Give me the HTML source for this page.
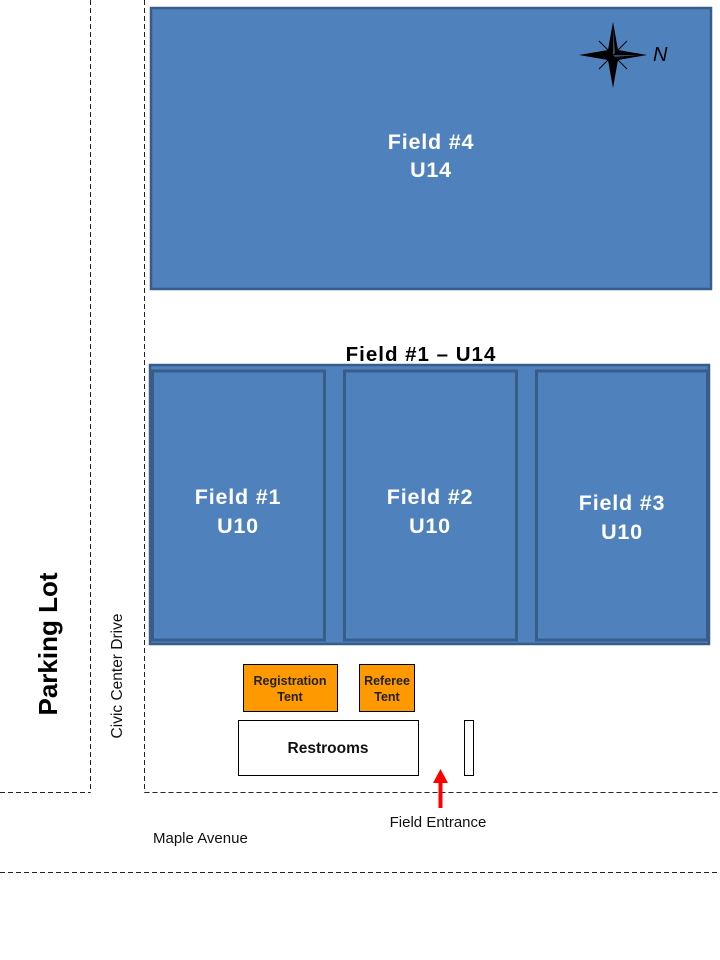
<!DOCTYPE html>
<html>
<head>
<meta charset="utf-8">
<style>
  html,body{margin:0;padding:0;background:#fff;}
  svg{display:block;}
  text{font-family:"Liberation Sans",Arial,sans-serif;}
</style>
</head>
<body>
<svg width="720" height="960" viewBox="0 0 720 960" xmlns="http://www.w3.org/2000/svg">
  <!-- dashed roads -->
  <g stroke="#222" stroke-width="1" stroke-dasharray="5,3" fill="none">
    <line x1="90.5" y1="0" x2="90.5" y2="792.5"/>
    <line x1="0" y1="792.5" x2="90.5" y2="792.5"/>
    <line x1="144.5" y1="0" x2="144.5" y2="792.5"/>
    <line x1="144.5" y1="792.5" x2="720" y2="792.5"/>
    <line x1="0" y1="872.5" x2="720" y2="872.5"/>
  </g>

  <!-- Field #4 -->
  <rect x="151" y="8" width="560" height="281" fill="#4f81bd" stroke="#385d8a" stroke-width="2.5"/>
  <text x="431" y="149" text-anchor="middle" font-weight="bold" font-size="21.5" fill="#fff" letter-spacing="0.8">Field #4</text>
  <text x="431" y="177" text-anchor="middle" font-weight="bold" font-size="21.5" fill="#fff" letter-spacing="0.8">U14</text>

  <!-- compass -->
  <g transform="translate(613,55)">
    <line x1="-14" y1="-14" x2="14" y2="14" stroke="#000" stroke-width="1"/>
    <line x1="14" y1="-14" x2="-14" y2="14" stroke="#000" stroke-width="1"/>
    <polygon points="0,-33 5,-5 34,0 5,5 0,33 -5,5 -34,0 -5,-5" fill="#000"/>
    <polygon points="0,-26 2,-2 0,0" fill="#4f81bd" opacity="0.6"/>
    <polygon points="26,0 2,2 0,0" fill="#4f81bd" opacity="0.6"/>
  </g>
  <text x="653" y="61" font-family="Liberation Serif,serif" font-style="italic" font-size="20" fill="#000">N</text>

  <!-- Field #1 - U14 title -->
  <text x="421" y="361" text-anchor="middle" font-weight="bold" font-size="20.5" fill="#000" letter-spacing="1">Field #1 – U14</text>

  <!-- big field -->
  <rect x="150" y="365" width="559" height="279" fill="#4f81bd" stroke="#385d8a" stroke-width="2.5"/>
  <rect x="152.5" y="371" width="172" height="269" fill="#4f81bd" stroke="#385d8a" stroke-width="3"/>
  <rect x="344.5" y="371" width="172" height="269" fill="#4f81bd" stroke="#385d8a" stroke-width="3"/>
  <rect x="536.5" y="371" width="171" height="269" fill="#4f81bd" stroke="#385d8a" stroke-width="3"/>

  <g font-weight="bold" font-size="21.5" fill="#fff" text-anchor="middle" letter-spacing="0.8">
    <text x="238" y="504">Field #1</text>
    <text x="238" y="533">U10</text>
    <text x="430" y="504">Field #2</text>
    <text x="430" y="533">U10</text>
    <text x="622" y="510">Field #3</text>
    <text x="622" y="539">U10</text>
  </g>

  <!-- tents -->
  <rect x="243.5" y="664.5" width="94" height="47" fill="#ff9900" stroke="#000" stroke-width="1"/>
  <text x="290" y="685" text-anchor="middle" font-weight="bold" font-size="12.5" fill="#222">Registration</text>
  <text x="290" y="701" text-anchor="middle" font-weight="bold" font-size="12.5" fill="#222">Tent</text>

  <rect x="359.5" y="664.5" width="55" height="47" fill="#ff9900" stroke="#000" stroke-width="1"/>
  <text x="387" y="685" text-anchor="middle" font-weight="bold" font-size="12.5" fill="#222">Referee</text>
  <text x="387" y="701" text-anchor="middle" font-weight="bold" font-size="12.5" fill="#222">Tent</text>

  <!-- restrooms -->
  <rect x="238.5" y="720.5" width="180" height="55" fill="#fff" stroke="#000" stroke-width="1"/>
  <text x="328" y="753" text-anchor="middle" font-weight="bold" font-size="15.5" fill="#111">Restrooms</text>
  <rect x="464.5" y="720.5" width="9" height="55" fill="#fff" stroke="#000" stroke-width="1"/>

  <!-- arrow -->
  <rect x="438.5" y="782" width="4" height="26" fill="#ff0000"/>
  <polygon points="440.5,769 448,783 433,783" fill="#ff0000"/>

  <!-- labels -->
  <text x="438" y="827" text-anchor="middle" font-size="15" fill="#111">Field Entrance</text>
  <text x="153" y="843" font-size="15" fill="#111">Maple Avenue</text>

  <text transform="translate(57,644) rotate(-90)" text-anchor="middle" font-weight="bold" font-size="26" fill="#000">Parking Lot</text>
  <text transform="translate(122,676) rotate(-90)" text-anchor="middle" font-size="15.5" fill="#111">Civic Center Drive</text>
</svg>
</body>
</html>
